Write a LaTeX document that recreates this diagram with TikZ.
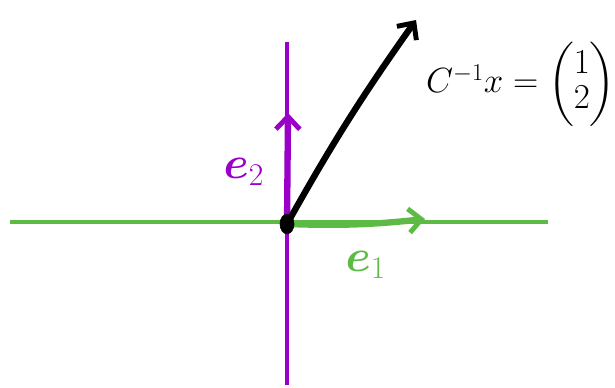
\documentclass[tikz,border=0pt]{standalone}
\usepackage{amsmath, amssymb}
\usepackage{xcolor}
\usetikzlibrary{arrows.meta}
\definecolor{axis-green}{HTML}{5DBB45}
\definecolor{axis-purple}{HTML}{9B00C8}

\begin{document}
\begin{tikzpicture}[x=0.025cm, y=-0.025cm,
        every node/.style={inner sep=0pt},
        vecarrow/.style={line width=4.5pt, line cap=round,
            -{Straight Barb[length=9pt, width=17pt, line width=3.5pt]}},
        veclabel/.style={font=\fontsize{24}{24}\selectfont, scale=1.3}]
      \useasboundingbox (0,0) rectangle (615,387);
      % axes
      \coordinate (xl) at (10,222);
      \coordinate (xr) at (548,222);
      \coordinate (yt) at (287,42);
      \coordinate (yb) at (287,385);
      \coordinate (o) at (287,224);
      \coordinate (e1tip) at (425,219);
      \coordinate (e2tip) at (288,113);
      \coordinate (vtip) at (416,20);
      \draw[line width=2.4pt, axis-green] (xl) -- (xr);
      \draw[line width=2.4pt, axis-purple] (yt) -- (yb);
      % basis vectors
      \draw[vecarrow, axis-green] (o) to[bend right=4] (e1tip);
      \draw[vecarrow, axis-purple] (o) -- (e2tip);
      \draw[vecarrow, black] (o) to[bend left=3] (vtip);
      \filldraw[black] (o) ellipse (5pt and 7pt);
      % labels
      \node[veclabel, axis-purple] (e2lbl) at (244,172) {$\boldsymbol{e}_2$};
      \node[veclabel, axis-green] (e1lbl) at (366,265) {$\boldsymbol{e}_1$};
      \node[font=\fontsize{25}{25}\selectfont] (vlbl) at (521,84) {$C^{-1}x=\begin{pmatrix}1\\2\end{pmatrix}$};
    \end{tikzpicture}
\end{document}
